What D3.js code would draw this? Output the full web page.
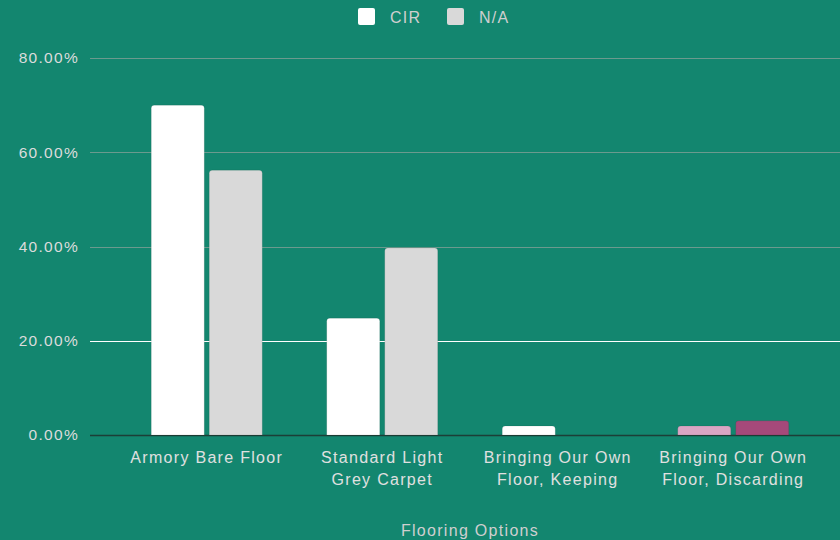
<!DOCTYPE html>
<html>
<head>
<meta charset="utf-8">
<script src="https://cdn.jsdelivr.net/npm/d3@7"></script>
<style>
  body { margin: 0; background: #13866f; }
  svg { display: block; font-family: "Liberation Sans", Arial, sans-serif; letter-spacing: 1.3px; }
</style>
</head>
<body>
<svg width="840" height="540"></svg>
<script>
// dati
const categories = [
  ["Armory Bare Floor"],
  ["Standard Light", "Grey Carpet"],
  ["Bringing Our Own", "Floor, Keeping"],
  ["Bringing Our Own", "Floor, Discarding"]
];
const seriesNames = ["CIR", "N/A"];
const cirValues = [0.70, 0.248, 0.019, 0.019];
const naValues = [0.562, 0.397, 0, 0.030];
const yTicks = [0, 0.2, 0.4, 0.6, 0.8];

// krāsas (pēdējā kategorija ir iekrāsota citādi)
const barColors = [
  ["#ffffff", "#d9d9d9"],
  ["#ffffff", "#d9d9d9"],
  ["#ffffff", "#d9d9d9"],
  ["#d9a6c4", "#a5497a"]
];

const svg = d3.select("svg");
const plotLeft = 90, plotRight = 840, plotTop = 58, plotBottom = 435;

let x = d3.scaleBand()
  .domain(d3.range(categories.length))
  .range([119, 821])
  .paddingInner(0)
  .paddingOuter(0);

let xInner = d3.scaleBand()
  .domain(seriesNames)
  .range([0, x.bandwidth()])
  .paddingInner(0.086)
  .paddingOuter(0.556);

let y = d3.scaleLinear().domain([0, 0.8]).range([plotBottom, plotTop]);

// režģa līnijas
svg.append("g")
  .selectAll("line")
  .data(yTicks)
  .enter()
  .append("line")
  .attr("x1", plotLeft)
  .attr("x2", plotRight)
  .attr("y1", (d) => Math.round(y(d)) + 0.5)
  .attr("y2", (d) => Math.round(y(d)) + 0.5)
  .attr("stroke", (d) => d === 0 ? "#1c3f37" : (d === 0.2 ? "#ffffff" : "#6b9a8e"))
  .attr("stroke-width", (d) => d === 0 ? 1.5 : 1.2);

// y ass teksti
svg.append("g")
  .selectAll("text")
  .data(yTicks)
  .enter()
  .append("text")
  .attr("x", 79)
  .attr("y", (d) => y(d))
  .attr("dy", "0.35em")
  .attr("text-anchor", "end")
  .attr("fill", "#dcdcdc")
  .attr("font-size", 15.5)
  .text((d) => d3.format(".2%")(d));

// stabiņi
let groups = svg.append("g")
  .selectAll("g")
  .data(categories.map((c, i) => i))
  .enter()
  .append("g")
  .attr("transform", (i) => `translate(${x(i)},0)`);

groups.selectAll("path")
  .data((i) => [
    { s: seriesNames[0], v: cirValues[i], c: barColors[i][0] },
    { s: seriesNames[1], v: naValues[i], c: barColors[i][1] }
  ].filter((d) => d.v > 0))
  .enter()
  .append("path")
  .attr("fill", (d) => d.c)
  .attr("stroke", "rgba(0,0,0,0.15)")
  .attr("stroke-width", 0.6)
  .attr("d", (d) => {
    let x0 = xInner(d.s), w = xInner.bandwidth();
    let y0 = y(d.v), r = 3;
    return `M${x0},${plotBottom}V${y0 + r}Q${x0},${y0} ${x0 + r},${y0}H${x0 + w - r}Q${x0 + w},${y0} ${x0 + w},${y0 + r}V${plotBottom}Z`;
  });

// kategoriju teksti
let labels = svg.append("g")
  .selectAll("text")
  .data(categories)
  .enter()
  .append("text")
  .attr("x", (d, i) => x(i) + x.bandwidth() / 2)
  .attr("y", 463)
  .attr("text-anchor", "middle")
  .attr("fill", "#e0e0e0")
  .attr("font-size", 16);

labels.selectAll("tspan")
  .data((d) => d)
  .enter()
  .append("tspan")
  .attr("x", function () { return this.parentNode.getAttribute("x"); })
  .attr("dy", (d, j) => j === 0 ? 0 : 22)
  .text((d) => d);

// ass nosaukums
svg.append("text")
  .attr("x", 470)
  .attr("y", 536)
  .attr("text-anchor", "middle")
  .attr("fill", "#cfcfcf")
  .attr("font-size", 16)
  .text("Flooring Options");

// leģenda
const legendX = [358, 447];
let legend = svg.append("g")
  .selectAll("g")
  .data(seriesNames)
  .enter()
  .append("g")
  .attr("transform", (d, i) => `translate(${legendX[i]},8)`);

legend.append("rect")
  .attr("width", 17)
  .attr("height", 17)
  .attr("rx", 2)
  .attr("fill", (d, i) => i === 0 ? "#ffffff" : "#d9d9d9");

legend.append("text")
  .attr("x", 32)
  .attr("y", 9)
  .attr("dy", "0.35em")
  .attr("fill", "#cfcfcf")
  .attr("font-size", 16)
  .text((d) => d);
</script>
</body>
</html>
